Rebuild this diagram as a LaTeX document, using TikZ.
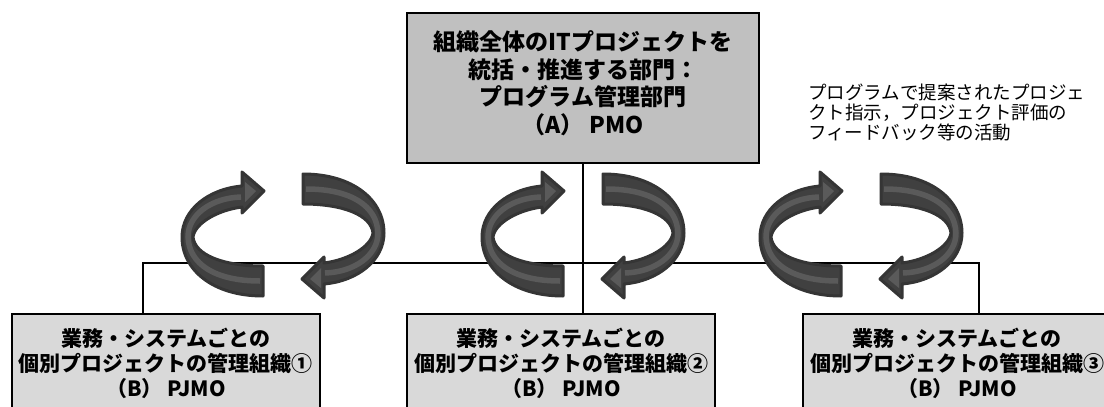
\documentclass[tikz,border=0pt]{standalone}
\usepackage{fontspec}
\newfontfamily\jp{Noto Sans CJK JP}
\definecolor{topfill}{HTML}{C0C0C0}
\definecolor{botfill}{HTML}{D9D9D9}
\definecolor{arrbody}{HTML}{404040}
\definecolor{arredge}{HTML}{353535}
\definecolor{arrlight}{HTML}{5A5A5A}
\tikzset{
  pmobox/.style={draw=black, line width=1.6pt, fill=topfill, inner sep=0pt},
  pmotext/.style={align=center, inner sep=0pt,
    font=\jp\bfseries\fontsize{23}{27.5}\selectfont},
  pjbox/.style={draw=black, line width=1.6pt, fill=botfill, align=center,
    font=\jp\bfseries\fontsize{21}{25}\selectfont, inner sep=0pt,
    minimum width=308pt, minimum height=98pt},
  link/.style={draw=black, line width=1.3pt},
  note/.style={align=left, anchor=north west, inner sep=0pt,
    font=\jp\fontsize{18.5}{20}\selectfont},
  arrowbody/.style={fill=arrbody, draw=arredge, line width=3pt, line join=round},
  arrowstripe/.style={draw=arrlight, line width=5.5pt, line cap=butt},
  cycarrow/.pic={
    \path[arrowbody] (-20,61) .. controls (-70,61) and (-101,35) .. (-101,2)
      .. controls (-101,-25) and (-75,-46) .. (-41,-49)
      -- (-41,-63) -- (-19,-44) -- (-41,-22) -- (-41,-28)
      .. controls (-65,-25) and (-88,-12) .. (-90,2)
      .. controls (-88,20) and (-60,31) .. (-20,31) -- cycle;
    \path[arrowstripe] (-23,46) .. controls (-68,46) and (-94,29) .. (-95,2)
      .. controls (-95,-20) and (-72,-37) .. (-42,-38);
    \fill[arrlight] (-38,-53) -- (-27,-44) -- (-38,-33) -- cycle;
  }
}
\begin{document}
\begin{tikzpicture}[x=1pt, y=-1pt]
\clip (0,0) rectangle (1104,407);
\fill[white] (0,0) rectangle (1104,407);

% connectors
\coordinate (b1) at (143,263);
\coordinate (b3) at (979,263);

\node[pmobox, minimum width=352pt, minimum height=150pt] (pmo) at (583,88) {};
\node[pmotext] (pmot) at (583,83)
  {組織全体のITプロジェクトを\\統括・推進する部門：\\プログラム管理部門\\（A） PMO};
\node[pjbox] (pj1) at (166,363) {業務・システムごとの\\個別プロジェクトの管理組織①\\（B） PJMO};
\node[pjbox] (pj2) at (561,363) {業務・システムごとの\\個別プロジェクトの管理組織②\\（B） PJMO};
\node[pjbox] (pj3) at (957,363) {業務・システムごとの\\個別プロジェクトの管理組織③\\（B） PJMO};

\draw[link] (pmo.south) -- (pmo.south |- pj2.north);
\draw[link] (b1 |- pj1.north) -- (b1) -- (b3) -- (b3 |- pj3.north);

\node[note] (nt) at (808,84) {プログラムで提案されたプロジェ\\クト指示，プロジェクト評価の\\フィードバック等の活動};

% cycle arrows
\pic at (283,235) {cycarrow};
\pic[rotate=180] at (283,235) {cycarrow};
\pic at (583,235) {cycarrow};
\pic[rotate=180] at (583,235) {cycarrow};
\pic at (861,235) {cycarrow};
\pic[rotate=180] at (861,235) {cycarrow};
\end{tikzpicture}
\end{document}
